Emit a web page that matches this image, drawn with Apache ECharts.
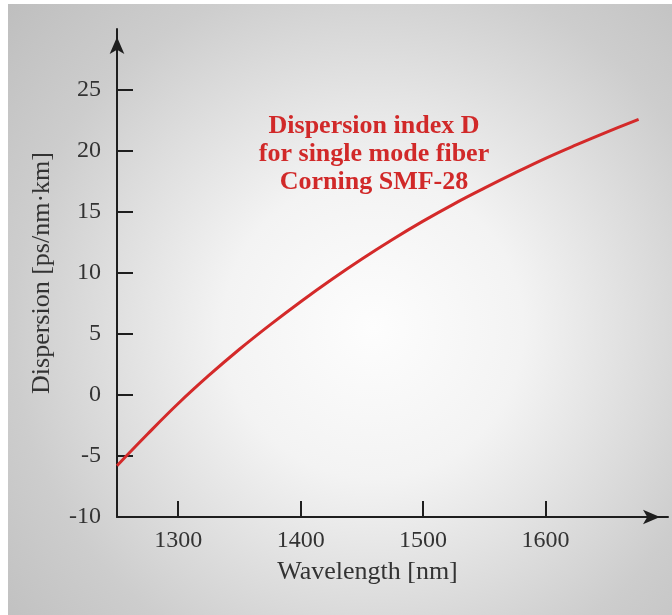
<!DOCTYPE html>
<html>
<head>
<meta charset="utf-8">
<script src="https://cdn.jsdelivr.net/npm/echarts@6/dist/echarts.min.js"></script>
<style>
html,body{margin:0;padding:0;background:#ffffff;}
#chart{width:672px;height:615px;}
</style>
</head>
<body>
<div id="chart"></div>
<script>
// Data
var wavelength = [1250, 1275, 1300, 1325, 1350, 1375, 1400, 1425, 1450, 1475, 1500, 1525, 1550, 1575, 1600, 1625, 1650, 1676];
var dispersion = [-5.8, -3.2, -0.7, 1.6, 3.75, 5.75, 7.65, 9.45, 11.15, 12.75, 14.25, 15.65, 16.95, 18.2, 19.4, 20.5, 21.55, 22.6];
var xTicks = [1300, 1400, 1500, 1600];
var yTicks = [-10, -5, 0, 5, 10, 15, 20, 25];
var annotation = ['Dispersion index D', 'for single mode fiber', 'Corning SMF-28'];

var points = wavelength.map(function (w, i) { return [w, dispersion[i]]; });

var serif = '"Liberation Serif", "Times New Roman", serif';
var axisColor = '#1e1e1e';
var textColor = '#333333';

var chart = echarts.init(document.getElementById('chart'));
chart.setOption({
  animation: false,
  backgroundColor: 'transparent',
  graphic: [
    {
      type: 'rect',
      z: -10,
      silent: true,
      shape: { x: 8, y: 4, width: 664, height: 611 },
      style: {
        fill: new echarts.graphic.RadialGradient(0.55, 0.53, 0.82, [
          { offset: 0, color: '#fdfdfd' },
          { offset: 0.3, color: '#f3f3f3' },
          { offset: 0.72, color: '#cdcdcd' },
          { offset: 1, color: '#bdbdbd' }
        ])
      }
    },
    {
      type: 'text',
      z: 10,
      x: 374,
      y: 154,
      style: {
        text: annotation.join('\n'),
        fill: '#d12929',
        font: 'bold 26px ' + serif,
        align: 'center',
        verticalAlign: 'middle',
        lineHeight: 28
      }
    }
  ],
  grid: { left: 117, right: 4, top: 29, bottom: 98, containLabel: false },
  xAxis: {
    type: 'value',
    min: 1250,
    max: 1700,
    name: 'Wavelength [nm]',
    nameLocation: 'middle',
    nameGap: 42,
    nameTextStyle: { fontFamily: serif, fontSize: 26, color: textColor, padding: [0, 50, 0, 0] },
    splitLine: { show: false },
    axisLine: {
      show: true,
      onZero: false,
      symbol: ['none', 'arrow'],
      symbolSize: [11, 17],
      symbolOffset: [0, -8],
      lineStyle: { color: axisColor, width: 2 }
    },
    axisTick: { show: true, inside: true, length: 16, customValues: xTicks, lineStyle: { color: axisColor, width: 2 } },
    axisLabel: {
      customValues: xTicks, margin: 12, fontFamily: serif, fontSize: 24, color: textColor,
      formatter: function (v) { return String(v); }
    }
  },
  yAxis: {
    type: 'value',
    min: -10,
    max: 30,
    name: 'Dispersion [ps/nm\u00b7km]',
    nameLocation: 'middle',
    nameGap: 62,
    nameRotate: 90,
    nameTextStyle: { fontFamily: serif, fontSize: 26, color: textColor },
    splitLine: { show: false },
    axisLine: {
      show: true,
      onZero: false,
      symbol: ['none', 'arrow'],
      symbolSize: [11, 17],
      symbolOffset: [0, -8],
      lineStyle: { color: axisColor, width: 2 }
    },
    axisTick: { show: true, inside: true, length: 16, customValues: yTicks, lineStyle: { color: axisColor, width: 2 } },
    axisLabel: {
      customValues: yTicks, margin: 16, padding: [0, 0, 14, 0], fontFamily: serif, fontSize: 24, color: textColor,
      formatter: function (v) { return String(v); }
    }
  },
  series: [{
    type: 'line',
    data: points,
    smooth: 0.4,
    showSymbol: false,
    symbol: 'none',
    lineStyle: { color: '#d42a2a', width: 3 },
    z: 5
  }]
});
</script>
</body>
</html>
